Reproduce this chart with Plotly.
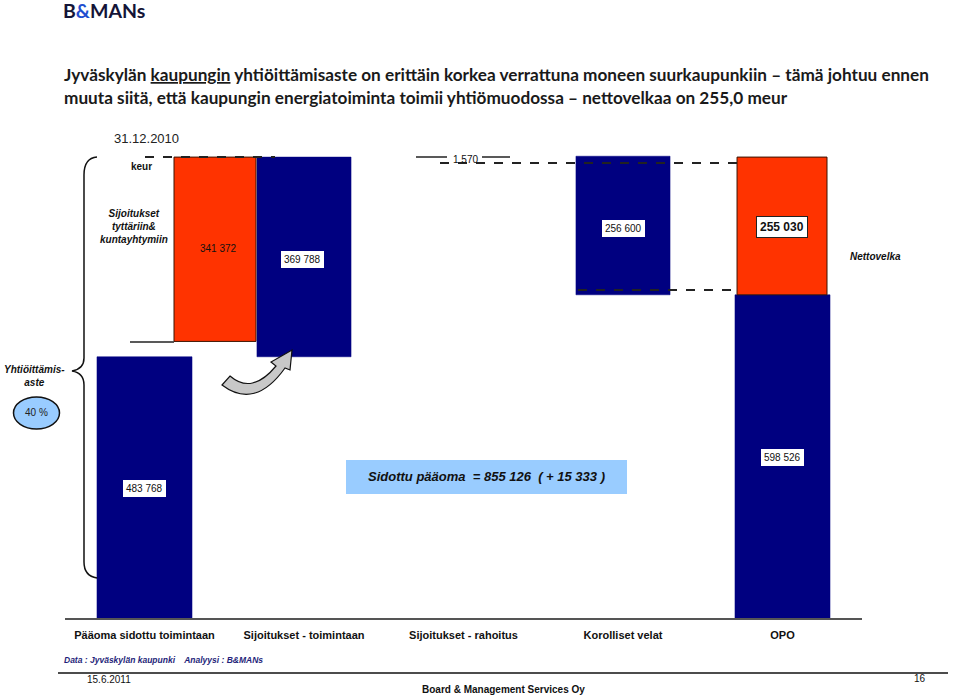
import plotly.graph_objects as go

# ---------------- data ----------------
categories = ["Pääoma sidottu toimintaan", "Sijoitukset - toimintaan",
              "Sijoitukset - rahoitus", "Korolliset velat", "OPO"]
paaoma_sidottu = 483768
sijoitukset_tyttariin = 341372
sijoitukset_toimintaan = 369788
korolliset_velat = 256600
nettovelka = 255030
opo = 598526
erotus = 1570
sidottu_paaoma = 855126
muutos = 15333
yhtioittamisaste = 40  # %

# ---------------- layout positions (category units) ----------------
navy_x = [0, 1, 3, 4]
navy_w = [0.596, 0.59, 0.59, 0.596]
red_x = [0.442, 3.997]
red_w = [0.514, 0.564]

W, H = 959, 696
NAVY = "#000080"
RED = "#ff3300"
LBLUE = "#99ccff"


def fx(x):
    return x / W


def fy(y):
    return 1 - y / H


def fmt(v):
    return f"{v:,}".replace(",", " ")


top_level = paaoma_sidottu + sijoitukset_toimintaan

navy_vals = [paaoma_sidottu, sijoitukset_toimintaan, korolliset_velat, opo]
navy_base = [0, paaoma_sidottu, sidottu_paaoma - korolliset_velat, 0]
red_vals = [sijoitukset_tyttariin, nettovelka]
red_base = [top_level - sijoitukset_tyttariin, opo]

fig = go.Figure()
fig.add_trace(go.Bar(x=navy_x, y=navy_vals, base=navy_base, width=navy_w,
                     marker=dict(color=NAVY, line=dict(color=NAVY, width=0.5)),
                     name="keur", showlegend=False))
fig.add_trace(go.Bar(x=red_x, y=red_vals, base=red_base, width=red_w,
                     marker=dict(color=RED, line=dict(color="#3a1200", width=1)),
                     name="keur", showlegend=False))

ann = []
shapes = []


def text(x, y, t, size=10, bold=False, italic=False, color="#111111",
         family="Liberation Sans, Arial, sans-serif", xanchor="center",
         yanchor="middle", **kw):
    s = t
    if bold:
        s = f"<b>{s}</b>"
    if italic:
        s = f"<i>{s}</i>"
    ann.append(dict(x=fx(x), y=fy(y), xref="paper", yref="paper", text=s,
                    showarrow=False, xanchor=xanchor, yanchor=yanchor,
                    font=dict(size=size, color=color, family=family), **kw))


def line(x0, y0, x1, y1, color="#222222", width=1.5, dash="solid"):
    shapes.append(dict(type="line", xref="paper", yref="paper",
                       x0=fx(x0), y0=fy(y0), x1=fx(x1), y1=fy(y1),
                       line=dict(color=color, width=width, dash=dash), layer="above"))


def path(pts_cmd, fill=None, color="#111111", width=1.5):
    shapes.append(dict(type="path", xref="paper", yref="paper", path=pts_cmd,
                       fillcolor=fill if fill else "rgba(0,0,0,0)",
                       line=dict(color=color, width=width), layer="above"))


def P(x, y):
    return f"{fx(x):.5f},{fy(y):.5f}"


# header
ann.append(dict(x=fx(61), y=fy(11), xref="paper", yref="paper",
                text="<b><span style='color:#141437'>B</span><span style='color:#1f4fd0'>&amp;</span><span style='color:#141437'>MANs</span></b>",
                showarrow=False, xanchor="left", yanchor="middle",
                font=dict(size=19.5, family="Lato, Open Sans, sans-serif", weight=900)))
HF = "Lato, Carlito, Open Sans, sans-serif"
text(62, 74, "Jyväskylän <u>kaupungin</u> yhtiöittämisaste on erittäin korkea verrattuna moneen suurkaupunkiin – tämä johtuu ennen",
     size=17.2, bold=True, family=HF, xanchor="left", color="#1a1a1a")
text(62, 98, "muuta siitä, että kaupungin energiatoiminta toimii yhtiömuodossa – nettovelkaa on 255,0 meur",
     size=17.2, bold=True, family=HF, xanchor="left", color="#1a1a1a")
text(112, 139, "31.12.2010", size=13, xanchor="left", color="#222222")

# side texts
text(141, 167, "keur", size=10, bold=True)
text(134, 227, "Sijoitukset<br>tyttäriin&amp;<br>kuntayhtymiin", size=10, bold=True, italic=True)
text(34, 376, "Yhtiöittämis-<br>aste", size=10, bold=True, italic=True)
text(875, 256, "Nettovelka", size=10, bold=True, italic=True)

# ellipse 40 %
shapes.append(dict(type="circle", xref="paper", yref="paper",
                   x0=fx(13.5), x1=fx(59.5), y0=fy(429), y1=fy(397),
                   fillcolor=LBLUE, line=dict(color="#111111", width=1.5), layer="above"))
text(36.5, 413, f"{yhtioittamisaste} %", size=10, color="#222222")

# brace
path("M " + P(97, 157) + " Q " + P(84, 158) + " " + P(84, 175) + " L " + P(84, 358)
     + " Q " + P(84, 369) + " " + P(72, 371) + " Q " + P(84, 373) + " " + P(84, 385)
     + " L " + P(84, 562) + " Q " + P(84, 576) + " " + P(97, 578), width=1.5)

# curved arrow
path("M " + P(222, 385) + " Q " + P(255, 410) + " " + P(285, 368) + " L " + P(290, 370)
     + " L " + P(292, 350) + " L " + P(271, 362) + " L " + P(276, 366)
     + " Q " + P(252, 395) + " " + P(230, 376) + " Z", fill="#c8c8c8", width=1.2)

# connector lines
line(145, 157, 275, 157, dash="dash", width=2)
line(416, 157, 447, 157, width=1.5)
line(482, 157, 510, 157, width=1.5)
text(465, 160, fmt(erotus), size=10)
line(440, 163, 737, 163, dash="dash", width=2)
line(578, 290, 737, 290, dash="dash", width=2)
line(130, 342, 174, 342, width=1.5)

# value labels
def vlabel(x, y, v, size=10, bold=False, bg="white", border=None):
    s = fmt(v)
    if bold:
        s = f"<b>{s}</b>"
    ann.append(dict(x=x, y=fy(y), xref="x", yref="paper", text=s, showarrow=False,
                    font=dict(size=size, color="#111111", family="Liberation Sans, Arial, sans-serif"),
                    bgcolor=bg, bordercolor=border if border else "rgba(0,0,0,0)",
                    borderwidth=1 if border else 0, borderpad=3,
                    xanchor="center", yanchor="middle"))


vlabel(navy_x[0], 488, paaoma_sidottu)
vlabel(red_x[0] + 0.02, 248, sijoitukset_tyttariin, bg="rgba(0,0,0,0)")
vlabel(navy_x[1] - 0.01, 259, sijoitukset_toimintaan)
vlabel(navy_x[2], 228, korolliset_velat)
vlabel(red_x[1], 227, nettovelka, size=12, bold=True, border="#222222")
vlabel(navy_x[3], 457, opo)

# Sidottu pääoma box
shapes.append(dict(type="rect", xref="paper", yref="paper",
                   x0=fx(346), x1=fx(627), y0=fy(494), y1=fy(460),
                   fillcolor=LBLUE, line=dict(width=0), layer="above"))
text(486, 477, f"Sidottu pääoma  = {fmt(sidottu_paaoma)}  ( + {fmt(muutos)} )",
     size=13, bold=True, italic=True)

# footer
text(62, 660, "Data : Jyväskylän kaupunki    Analyysi : B&amp;MANs", size=8.5,
     bold=True, italic=True, color="#1f1f7a", xanchor="left")
line(58, 673, 948, 673, color="#111111", width=1.5)
text(85, 679, "15.6.2011", size=10, xanchor="left", color="#111111")
text(503, 689, "Board &amp; Management Services Oy", size=10, bold=True, color="#111111")
text(928, 678, "16", size=10, xanchor="right", color="#111111")

fig.update_layout(
    width=W, height=H, margin=dict(l=0, r=0, t=0, b=0, pad=0),
    paper_bgcolor="white", plot_bgcolor="rgba(0,0,0,0)",
    barmode="overlay", showlegend=False,
    annotations=ann, shapes=shapes,
    xaxis=dict(domain=[64.75 / W, 862.25 / W], range=[-0.5, 4.5],
               tickvals=list(range(len(categories))), ticktext=[f"<b>{c}</b>" for c in categories],
               tickfont=dict(size=11, color="#111111", family="Liberation Sans, Arial, sans-serif"),
               showgrid=False, zeroline=False, showline=True, linecolor="#555555",
               linewidth=1.5, ticks="", ticklabelstandoff=6, fixedrange=True),
    yaxis=dict(domain=[(H - 618) / H, (H - 142.8) / H], range=[0, 880000], visible=False,
               showgrid=False, zeroline=False, fixedrange=True),
)

fig.write_html("out.html", include_plotlyjs=True, full_html=True,
               config=dict(displayModeBar=False, responsive=False),
               post_script="document.body.style.margin='0';")
